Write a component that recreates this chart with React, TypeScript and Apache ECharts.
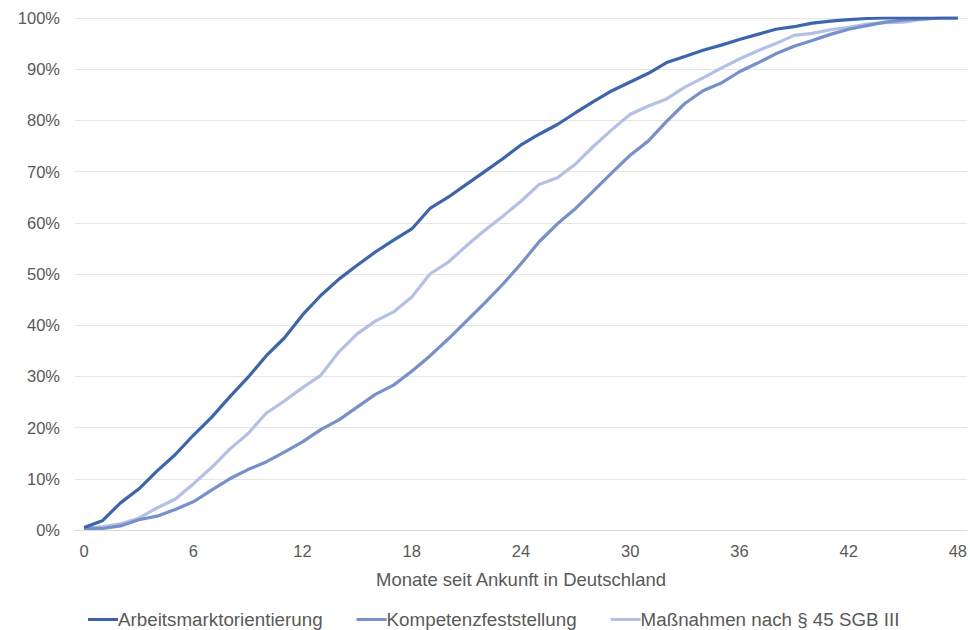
import React, { useEffect, useRef } from "react";
import * as echarts from "echarts";

const months: string[] = Array.from({ length: 49 }, (_, i) => String(i));

const arbeitsmarkt: number[] = [
  0.5, 1.8, 5.3, 8, 11.5, 14.7, 18.5, 22, 26, 29.8,
  34, 37.5, 42, 45.8, 49, 51.7, 54.3, 56.6, 58.8, 62.8,
  65, 67.5, 70, 72.5, 75.2, 77.3, 79.2, 81.5, 83.7, 85.8,
  87.5, 89.2, 91.3, 92.5, 93.7, 94.7, 95.8, 96.8, 97.8, 98.3,
  99, 99.4, 99.7, 99.9, 100, 100, 100, 100, 100,
];

const kompetenz: number[] = [
  0.3, 0.3, 0.8, 2, 2.7, 4, 5.5, 7.8, 10, 11.8,
  13.3, 15.2, 17.2, 19.6, 21.5, 24, 26.5, 28.3, 31, 34,
  37.3, 40.8, 44.3, 48, 52, 56.3, 59.8, 62.8, 66.3, 69.8,
  73.2, 76, 79.8, 83.3, 85.8, 87.3, 89.5, 91.2, 93, 94.5,
  95.6, 96.8, 97.8, 98.5, 99.2, 99.6, 99.8, 100, 100,
];

const massnahmen: number[] = [
  0.3, 0.6, 1.2, 2.3, 4.3, 6, 9, 12.2, 15.8, 18.8,
  22.8, 25.2, 27.8, 30.2, 34.8, 38.3, 40.8, 42.6, 45.5, 50,
  52.3, 55.5, 58.5, 61.3, 64.2, 67.5, 68.8, 71.5, 75, 78.2,
  81.2, 82.8, 84.2, 86.5, 88.3, 90.2, 92, 93.6, 95, 96.6,
  97, 97.7, 98.2, 98.8, 99.1, 99.2, 99.7, 100, 100,
];

const seriesNames = [
  "Arbeitsmarktorientierung",
  "Kompetenzfeststellung",
  "Maßnahmen nach § 45 SGB III",
];
const colors = ["#3D65AF", "#7690CC", "#B4C1E6"];

export default function App() {
  const ref = useRef<HTMLDivElement>(null);

  useEffect(() => {
    if (!ref.current) return;
    const chart = echarts.init(ref.current, undefined, { renderer: "svg" });
    const font = "'Liberation Sans', Arial, sans-serif";
    const dataSets = [arbeitsmarkt, kompetenz, massnahmen];
    chart.setOption({
      animation: false,
      backgroundColor: "#ffffff",
      textStyle: { fontFamily: font },
      grid: { left: 75, right: -1, top: 18, bottom: 100, containLabel: false },
      legend: {
        top: 605,
        left: 83,
        itemWidth: 30,
        itemHeight: 3,
        itemGap: 34,
        icon: "rect",
        textStyle: {
          fontFamily: font,
          fontSize: 18.8,
          lineHeight: 18,
          color: "#595959",
          padding: [0, 0, 0, -5],
        },
        data: seriesNames,
      },
      xAxis: {
        type: "category",
        data: months,
        boundaryGap: true,
        name: "Monate seit Ankunft in Deutschland",
        nameLocation: "middle",
        nameGap: 40,
        nameTextStyle: { fontFamily: font, fontSize: 18.5, color: "#595959" },
        axisLine: { show: true, lineStyle: { color: "#D9D9D9", width: 1 } },
        axisTick: { show: false },
        axisLabel: {
          interval: 5,
          margin: 12,
          fontFamily: font,
          fontSize: 16.5,
          color: "#595959",
        },
        splitLine: { show: false },
      },
      yAxis: {
        type: "value",
        min: 0,
        max: 100,
        interval: 10,
        axisLine: { show: false },
        axisTick: { show: false },
        axisLabel: {
          formatter: "{value}%",
          margin: 15,
          fontFamily: font,
          fontSize: 16.5,
          color: "#595959",
        },
        splitLine: { show: true, lineStyle: { color: "#E6E6E6", width: 1 } },
      },
      series: seriesNames.map((name, i) => ({
        name,
        type: "line",
        data: dataSets[i],
        showSymbol: false,
        symbol: "none",
        color: colors[i],
        lineStyle: { color: colors[i], width: 3.2 },
        z: 10 - i,
      })),
    });
    return () => chart.dispose();
  }, []);

  return (
    <div
      ref={ref}
      style={{ position: "fixed", left: 0, top: 0, width: 970, height: 630 }}
    />
  );
}
